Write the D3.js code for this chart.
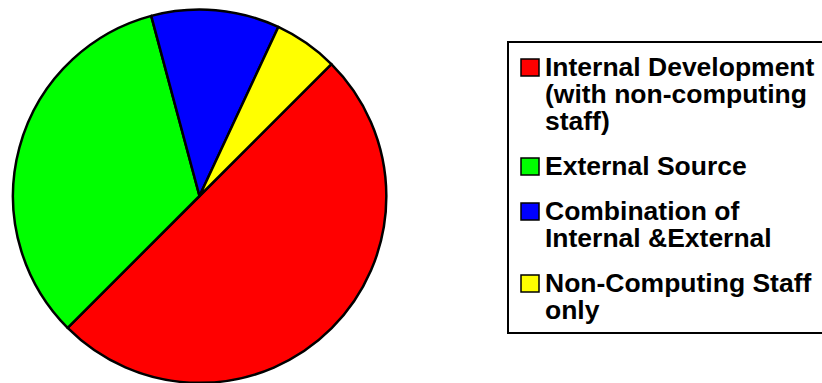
<!DOCTYPE html>
<html lang="en">
<head>
<meta charset="UTF-8">
<title>Pie</title>
<style>
    body{ margin:0; background:white; }
    svg text{ font-family:"Liberation Sans", Arial, sans-serif; font-weight:bold; }
</style>
</head>
<body>
<script src="https://cdn.jsdelivr.net/npm/d3@7/dist/d3.min.js"></script>
<script>

var categories = ["Internal Development (with non-computing staff)", "External Source", "Combination of Internal &External", "Non-Computing Staff only"];
var values = [9, 6, 2, 1];
var colors = ["#ff0000", "#00ff00", "#0000ff", "#ffff00"];
var legendLines = [
    ["Internal Development", "(with non-computing", "staff)"],
    ["External Source"],
    ["Combination of", "Internal &External"],
    ["Non-Computing Staff", "only"]
];

var width = 822, height = 383;
var cx = 199.5, cy = 196, r = 186.5;

var svg = d3.select("body").append("svg")
        .attr("width", width)
        .attr("height", height);

var data = values.map(function(v, i){ return {name: categories[i], value: v, color: colors[i]}; });

var pie = d3.pie()
        .sort(null)
        .value(function(d){ return d.value; })
        .startAngle(Math.PI / 4)
        .endAngle(Math.PI / 4 + 2 * Math.PI);

var arc = d3.arc().innerRadius(0).outerRadius(r);

svg.append("g")
        .attr("transform", "translate(" + cx + "," + cy + ")")
        .selectAll("path")
        .data(pie(data))
        .enter().append("path")
        .attr("d", arc)
        .style("fill", function(d){ return d.data.color; })
        .style("stroke", "black")
        .style("stroke-width", 2.5)
        .style("stroke-linejoin", "round");

// legend
svg.append("rect")
        .attr("x", 508)
        .attr("y", 42)
        .attr("width", 330)
        .attr("height", 291)
        .style("fill", "white")
        .style("stroke", "black")
        .style("stroke-width", 2);

var lineH = 27, gap = 18, fs = 25;
var y = 76;
var leg = svg.append("g");

data.forEach(function(d, i){
    var g = leg.append("g");
    g.append("rect")
            .attr("x", 521)
            .attr("y", y - 17)
            .attr("width", 18)
            .attr("height", 17)
            .style("fill", d.color)
            .style("stroke", "black")
            .style("stroke-width", 1.5);
    legendLines[i].forEach(function(t, j){
        g.append("text")
                .attr("transform", "translate(545," + (y + j * lineH) + ") scale(1.06,1)")
                .style("font-size", fs + "px")
                .text(t);
    });
    y += legendLines[i].length * lineH + gap;
});

</script>
</body>
</html>
